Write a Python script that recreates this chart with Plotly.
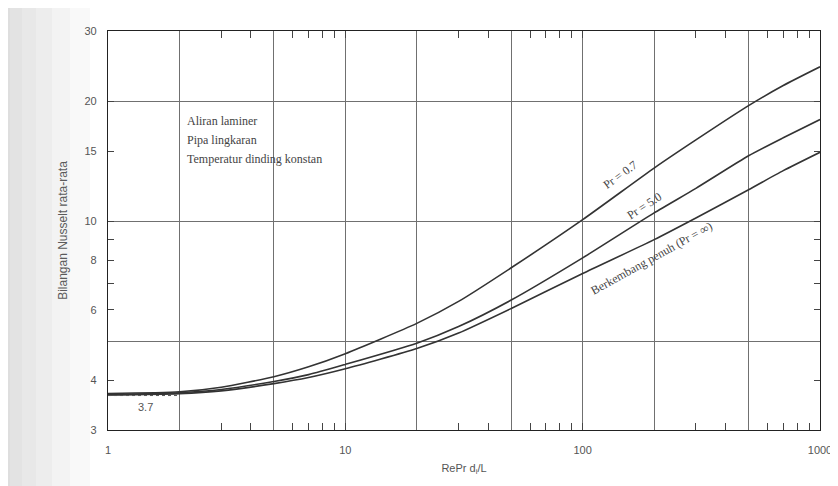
import plotly.graph_objects as go

# ---- data ----
re_pr = [1, 2, 3, 5, 7, 10, 20, 30, 50, 100, 200, 300, 500, 700, 1000]
nu_pr07 = [3.70, 3.74, 3.84, 4.08, 4.32, 4.66, 5.55, 6.30, 7.65, 10.1, 13.6, 16.0, 19.5, 21.9, 24.4]
nu_pr50 = [3.68, 3.72, 3.79, 3.97, 4.13, 4.38, 4.95, 5.45, 6.35, 8.1, 10.5, 12.1, 14.6, 16.2, 18.0]
nu_fd = [3.67, 3.70, 3.76, 3.92, 4.06, 4.27, 4.80, 5.25, 6.05, 7.4, 9.0, 10.2, 12.0, 13.4, 14.9]

asym_x = [1, 2]
asym_y = [3.66, 3.66]

x_tick_vals = [1, 3, 4, 6, 7, 8, 9, 10, 30, 40, 60, 70, 80, 90, 100, 300, 400, 600, 700, 800, 900, 1000]
x_tick_text = ["1", "", "", "", "", "", "", "10", "", "", "", "", "", "", "100", "", "", "", "", "", "", "1000"]
x_grid_vals = [2, 5, 10, 20, 50, 100, 200, 500]

y_tick_vals = [3, 4, 6, 7, 8, 9, 10, 15, 20, 30]
y_tick_text = ["3", "4", "6", "", "8", "", "10", "15", "20", "30"]
y_grid_vals = [5, 10, 20]

line_col = "#333333"
grid_col = "#707070"
txt_col = "#444444"

fig = go.Figure()
for ys in (nu_pr07, nu_pr50, nu_fd):
    fig.add_trace(go.Scatter(x=re_pr, y=ys, mode="lines",
                             line=dict(color=line_col, width=1.6, shape="spline", smoothing=0.6),
                             showlegend=False, hoverinfo="skip"))
fig.add_trace(go.Scatter(x=asym_x, y=asym_y, mode="lines", line=dict(color="#555555", width=1, dash="dot"),
                         showlegend=False, hoverinfo="skip"))

# scan shading at left edge
shapes = []
for w in [10, 22, 36, 52, 70, 90]:
    shapes.append(dict(type="rect", xref="paper", yref="paper", x0=-120/712, x1=(w-108)/712, y0=-70/399, y1=1+40/399,
                       fillcolor="#a0a0a0", opacity=0.06, line=dict(width=0), layer="below"))

serif = "Liberation Serif, Times New Roman, serif"
ann = []
for txt, yp in [("Aliran laminer", 0.774), ("Pipa lingkaran", 0.727), ("Temperatur dinding konstan", 0.679)]:
    ann.append(dict(text=txt, xref="paper", yref="paper", x=0.108, y=yp, xanchor="left", yanchor="middle",
                    showarrow=False, font=dict(family=serif, size=12, color=txt_col)))
for txt, xp, yp, ang in [("Pr = 0.7", 0.719, 0.639, -36), ("Pr = 5.0", 0.753, 0.562, -33),
                          ("Berkembang penuh (Pr = ∞)", 0.764, 0.432, -29)]:
    ann.append(dict(text=txt, xref="paper", yref="paper", x=xp, y=yp, xanchor="center", yanchor="middle",
                    showarrow=False, textangle=ang, font=dict(family=serif, size=12, color=txt_col)))
ann.append(dict(text="3.7", xref="paper", yref="paper", x=0.052, y=0.058, xanchor="center", yanchor="middle",
                showarrow=False, font=dict(family="Liberation Sans, Arial, sans-serif", size=11, color="#555555")))

fig.update_layout(
    width=838, height=486,
    margin=dict(l=100, r=26, t=23, b=64),
    paper_bgcolor="white", plot_bgcolor="white",
    shapes=shapes, annotations=ann,
    font=dict(family="Liberation Sans, Arial, sans-serif", size=11, color="#555555"),
    xaxis=dict(type="log", range=[0, 3], automargin=False,
               tickvals=x_tick_vals, ticktext=x_tick_text, ticks="inside", ticklen=7, tickcolor="#444444",
               ticklabelstandoff=10, showgrid=False,
               minor=dict(tickvals=x_grid_vals, ticks="", showgrid=True, gridcolor=grid_col, gridwidth=1),
               showline=True, linecolor="#222222", linewidth=1.3, mirror="ticks",
               title=dict(text="RePr d<sub>i</sub>/L", font=dict(size=11, color="#555555"), standoff=8),
               zeroline=False),
    yaxis=dict(type="log", range=[0.47712, 1.47712], automargin=False,
               tickvals=y_tick_vals, ticktext=y_tick_text, ticks="inside", ticklen=6, tickcolor="#444444",
               ticklabelstandoff=8, showgrid=False,
               minor=dict(tickvals=y_grid_vals, ticks="", showgrid=True, gridcolor=grid_col, gridwidth=1),
               showline=True, linecolor="#222222", linewidth=1.3, mirror="ticks",
               title=dict(text="Bilangan Nusselt rata-rata", font=dict(size=12, color="#5a5a5a"), standoff=14),
               zeroline=False),
)

fig.write_html("out.html")
